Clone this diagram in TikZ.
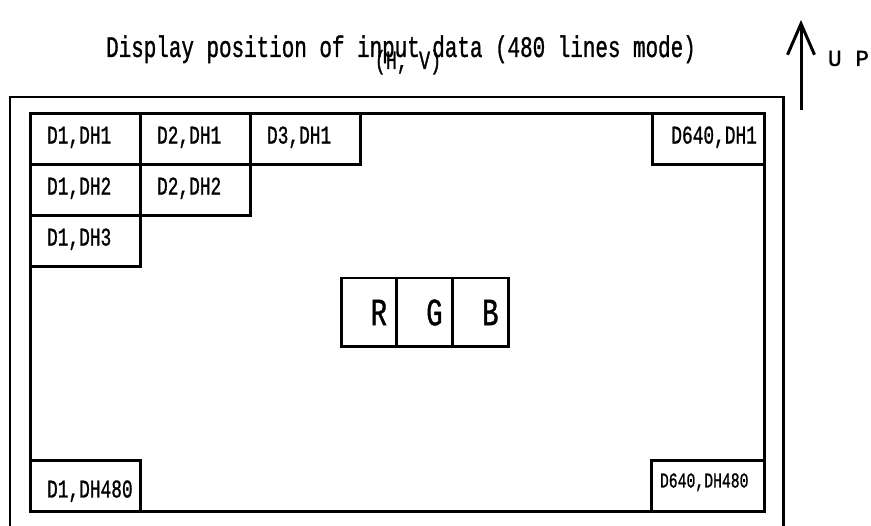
\documentclass[tikz,border=0pt]{standalone}
\usepackage{fontspec}
\newfontfamily\jmono[FakeStretch=0.7,FakeBold=1]{Liberation Mono}
\newfontfamily\jmonowide[FakeBold=1]{Liberation Mono}
\usetikzlibrary{positioning,arrows.meta}

\begin{document}
\begin{tikzpicture}[x=0.02cm,y=-0.02cm,
   frame/.style={line width=1.7pt},
   cell/.style={draw,line width=1.7pt,outer sep=0pt,minimum width=2.2cm,minimum height=1.02cm,
      text width=1.52cm,inner xsep=0.34cm,inner ysep=0pt,align=left,
      text height=0.3cm,text depth=0.1cm,font=\jmono\fontsize{14.5}{16}\selectfont},
   rgb/.style={draw,line width=1.7pt,outer sep=0pt,minimum width=1.12cm,minimum height=1.38cm,
      text width=0.72cm,inner xsep=0.2cm,align=right,font=\jmono\fontsize{22}{24}\selectfont}]
   \useasboundingbox (0,0) rectangle (871,526);
   \node[anchor=base,font=\jmono\fontsize{17}{19}\selectfont] (title) at (401,57)
      {Display position of input data (480 lines mode)};
   \node[anchor=base,font=\jmono\fontsize{15}{17}\selectfont] (hv) at (408,69) {(H, V)};
   \coordinate (upfoot) at (801,110);
   \coordinate (uptip) at (801,20);
   \draw[frame,-{Straight Barb[length=0.62cm,width=0.54cm]}] (upfoot) -- (uptip);
   \node[font=\jmonowide\fontsize{13}{15}\selectfont] (up) at (848.5,58.5) {U P};
   \draw[frame] (10,526) -- (10,97) -- (783,97) -- (783,526);
   \node[draw,line width=1.7pt,outer sep=0pt,inner sep=0pt,minimum width=14.7cm,minimum height=7.98cm]
      (screen) at (397.5,312.5) {};
   \node[cell,anchor=north west] (d1h1) at (screen.north west) {D1,DH1};
   \node[cell,right=0pt of d1h1] (d2h1) {D2,DH1};
   \node[cell,right=0pt of d2h1] (d3h1) {D3,DH1};
   \node[cell,below=0pt of d1h1] (d1h2) {D1,DH2};
   \node[cell,right=0pt of d1h2] (d2h2) {D2,DH2};
   \node[cell,below=0pt of d1h2] (d1h3) {D1,DH3};
   \node[cell,anchor=north east,minimum width=2.24cm,text width=1.92cm,inner xsep=0.16cm,align=right]
      (d640h1) at (screen.north east) {D640,DH1};
   \node[cell,anchor=south west,text height=0.5cm,text depth=0.06cm]
      (d1h480) at (screen.south west) {D1,DH480};
   \node[cell,anchor=south east,minimum width=2.26cm,text width=1.94cm,inner xsep=0.16cm,
      text height=0.3cm,text depth=0.26cm,font=\jmono\fontsize{12}{14}\selectfont]
      (d640h480) at (screen.south east) {D640,DH480};
   \foreach \c/\x in {R/369,G/424.5,B/480.5}
      \node[rgb] (\c) at (\x,312.5) {\c};
\end{tikzpicture}
\end{document}
